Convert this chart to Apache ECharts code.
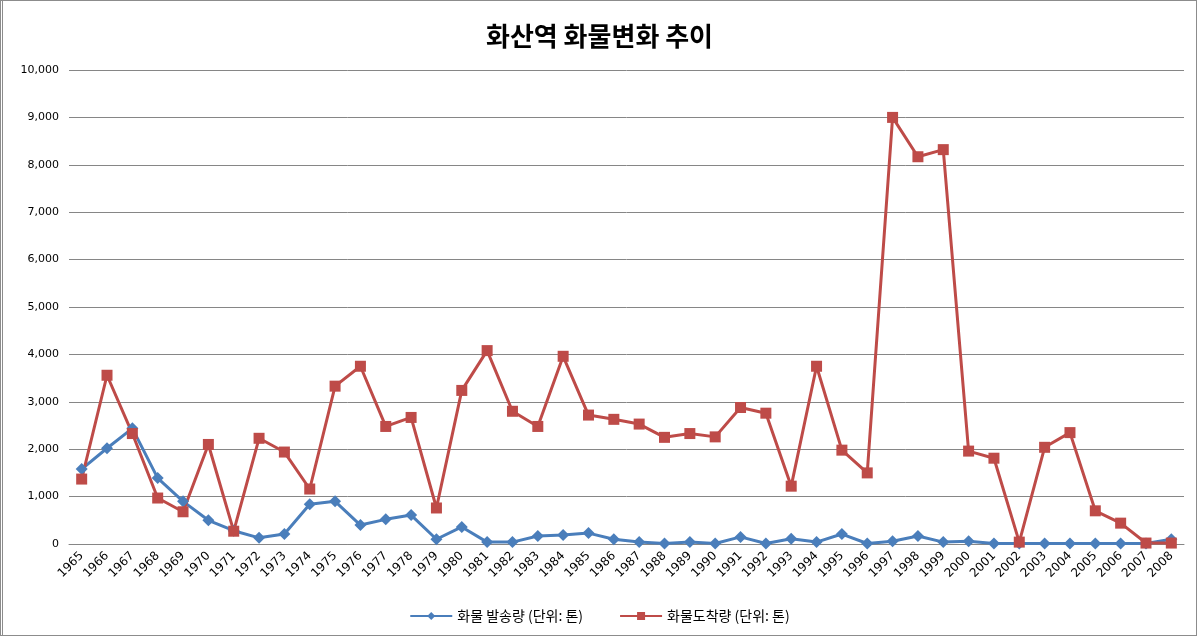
<!DOCTYPE html>
<html>
<head>
<meta charset="utf-8">
<script src="https://cdn.jsdelivr.net/npm/echarts@6/dist/echarts.min.js"></script>
<style>
html, body { margin: 0; padding: 0; background: #fff; }
#chart { width: 1197px; height: 636px; box-sizing: border-box; border: 1px solid #8c8c8c; border-left: 3px double #8c8c8c; }
</style>
</head>
<body>
<div id="chart"></div>
<script>
var years = ['1965','1966','1967','1968','1969','1970','1971','1972','1973','1974','1975','1976','1977','1978','1979','1980','1981','1982','1983','1984','1985','1986','1987','1988','1989','1990','1991','1992','1993','1994','1995','1996','1997','1998','1999','2000','2001','2002','2003','2004','2005','2006','2007','2008'];

// 화물 발송량 (단위: 톤)
var sent = [1580, 2020, 2440, 1390, 900, 500, 280, 130, 210, 840, 900, 400, 520, 610, 100, 360, 40, 40, 170, 190, 230, 100, 40, 10, 40, 10, 150, 10, 110, 40, 210, 10, 60, 170, 40, 60, 10, 10, 10, 10, 10, 10, 10, 100];

// 화물도착량 (단위: 톤)
var arrived = [1370, 3560, 2330, 970, 680, 2100, 270, 2230, 1940, 1160, 3330, 3750, 2480, 2670, 760, 3240, 4080, 2800, 2480, 3960, 2720, 2630, 2530, 2250, 2330, 2260, 2880, 2760, 1220, 3750, 1980, 1500, 9000, 8170, 8320, 1960, 1810, 40, 2040, 2350, 700, 440, 20, 20];

var chart = echarts.init(document.getElementById('chart'));

var option = {
	animation: false,
	title: {
		text: '화산역 화물변화 추이',
		left: 'center',
		top: 17,
		textStyle: {
			fontFamily: 'Noto Sans CJK KR',
			fontSize: 26,
			fontWeight: 'bold',
			color: '#000'
		}
	},
	legend: {
		bottom: 7,
		itemWidth: 42,
		itemHeight: 10,
		itemGap: 36,
		textStyle: {
			fontFamily: 'Noto Sans CJK KR',
			fontSize: 14,
			color: '#000'
		},
		data: ['화물 발송량 (단위: 톤)', '화물도착량 (단위: 톤)']
	},
	grid: {
		left: 66,
		right: 12,
		top: 69,
		bottom: 91
	},
	xAxis: {
		type: 'category',
		data: years,
		boundaryGap: true,
		axisLine: { lineStyle: { color: '#868686' } },
		axisTick: { show: false },
		axisLabel: {
			rotate: 45,
			color: '#000',
			fontFamily: 'DejaVu Sans',
			fontSize: 12,
			interval: 0,
			margin: 10
		}
	},
	yAxis: {
		type: 'value',
		min: 0,
		max: 10000,
		interval: 1000,
		axisLine: { show: false },
		axisTick: { show: false },
		splitLine: { lineStyle: { color: '#868686', width: 1 } },
		axisLabel: {
			color: '#000',
			fontFamily: 'DejaVu Sans',
			fontSize: 11,
			margin: 10,
			formatter: function (v) { return v.toLocaleString('en-US'); }
		}
	},
	series: [
		{
			name: '화물 발송량 (단위: 톤)',
			type: 'line',
			data: sent,
			symbol: 'diamond',
			symbolSize: 12,
			itemStyle: { color: '#4A7EBB' },
			lineStyle: { color: '#4A7EBB', width: 3 }
		},
		{
			name: '화물도착량 (단위: 톤)',
			type: 'line',
			data: arrived,
			symbol: 'rect',
			symbolSize: 11,
			itemStyle: { color: '#BE4B48' },
			lineStyle: { color: '#BE4B48', width: 3 }
		}
	]
};
chart.setOption(option);
</script>
</body>
</html>
